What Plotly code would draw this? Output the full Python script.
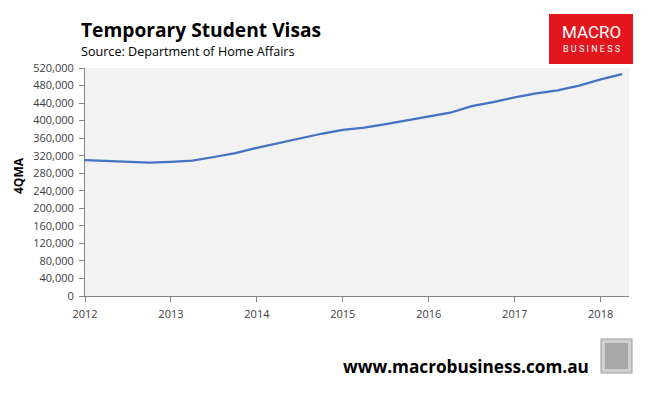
import plotly.graph_objects as go

# Data (4-quarter moving average of temporary student visas)
quarters = [2012.0, 2012.25, 2012.5, 2012.75, 2013.0, 2013.25, 2013.5, 2013.75,
            2014.0, 2014.25, 2014.5, 2014.75, 2015.0, 2015.25, 2015.5, 2015.75,
            2016.0, 2016.25, 2016.5, 2016.75, 2017.0, 2017.25, 2017.5, 2017.75,
            2018.0, 2018.25]
visas = [310000, 308000, 306000, 304000, 306000, 308500, 317000, 326000,
         338000, 349000, 360000, 370000, 379000, 384000, 392000, 401000,
         410000, 418000, 433000, 442000, 453000, 462000, 469000, 480000,
         494000, 506000]
year_ticks = [2012, 2013, 2014, 2015, 2016, 2017, 2018]
year_labels = ["2012", "2013", "2014", "2015", "2016", "2017", "2018"]
y_ticks = list(range(0, 520001, 40000))
y_labels = [f"{v:,}" for v in y_ticks]

W, H = 657, 393
L, R, T, B = 85, 629, 68, 296

def px(x):
    return (x - L) / (R - L)

def py(y):
    return (B - y) / (B - T)

FONT = "Open Sans"

fig = go.Figure()
fig.add_trace(go.Scatter(x=quarters, y=visas, mode="lines",
                         line=dict(color="#4472c4", width=2.25),
                         hoverinfo="x+y", showlegend=False))

fig.update_layout(
    width=W, height=H,
    margin=dict(l=L, r=W - R, t=T, b=H - B, pad=0),
    paper_bgcolor="white", plot_bgcolor="#f2f2f2",
    font=dict(family=FONT, color="#404040", size=11),
    xaxis=dict(range=[2012, 2018.33], tickvals=year_ticks, ticktext=year_labels,
               showgrid=False, zeroline=False, showline=True, linecolor="#868686",
               linewidth=1, ticks="outside", ticklen=5, tickcolor="#868686",
               ticklabelstandoff=3,
               tickfont=dict(size=11, color="#404040", family=FONT)),
    yaxis=dict(range=[0, 520000], tickvals=y_ticks, ticktext=y_labels,
               showgrid=False, zeroline=False, showline=True, linecolor="#868686",
               linewidth=1, ticks="outside", ticklen=5, tickcolor="#868686",
               ticklabelstandoff=3,
               tickfont=dict(size=11, color="#404040", family=FONT)),
)

annotations = [
    dict(text="<b>Temporary Student Visas</b>", x=px(79), y=py(30), xanchor="left",
         yanchor="middle", font=dict(size=19.2, color="#000000", family=FONT)),
    dict(text="Source: Department of Home Affairs", x=px(79), y=py(51), xanchor="left",
         yanchor="middle", font=dict(size=12.6, color="#000000", family=FONT)),
    dict(text="<b>4QMA</b>", x=px(18), y=py(176), xanchor="center", yanchor="middle",
         textangle=-90, font=dict(size=12, color="#000000", family=FONT)),
    dict(text="<b>www.macrobusiness.com.au</b>", x=px(341), y=py(366), xanchor="left",
         yanchor="middle", font=dict(size=17.2, color="#000000", family=FONT)),
    dict(text="MACRO", x=px(591), y=py(32), xanchor="center", yanchor="middle",
         font=dict(size=17, color="white", family="Roboto")),
    dict(text="B U S I N E S S", x=px(591), y=py(49), xanchor="center", yanchor="middle",
         font=dict(size=9, color="white", family="Roboto")),
]
for a in annotations:
    a.update(xref="paper", yref="paper", showarrow=False)
fig.update_layout(annotations=annotations)

shapes = [
    dict(type="rect", x0=px(549), x1=px(633), y0=py(14), y1=py(64),
         fillcolor="#e3161e", line=dict(width=0), layer="above"),
    dict(type="rect", x0=px(601), x1=px(632), y0=py(339), y1=py(373),
         fillcolor="#d0d0d0", line=dict(color="#9a9a9a", width=1), layer="above"),
    dict(type="rect", x0=px(605), x1=px(628), y0=py(343), y1=py(369),
         fillcolor="#a8a8a8", line=dict(width=0), layer="above"),
]
for s in shapes:
    s.update(xref="paper", yref="paper")
fig.update_layout(shapes=shapes)

fig.write_html("out.html", config={"displayModeBar": False},
               post_script="document.body.style.margin='0';document.body.style.overflow='hidden';")
